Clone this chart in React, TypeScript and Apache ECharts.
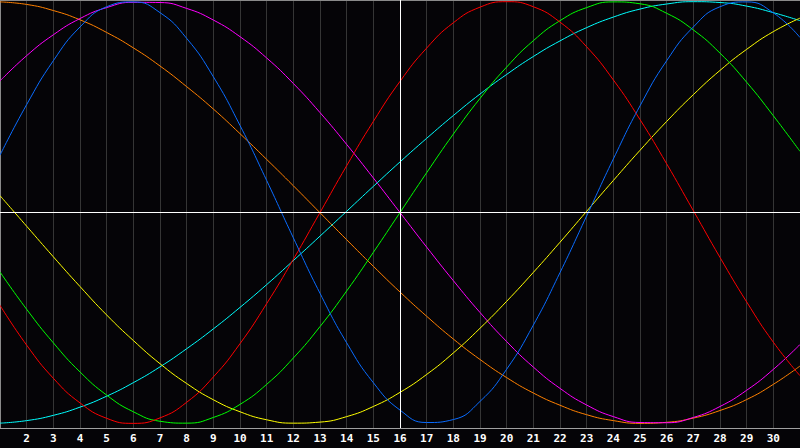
import React, { useEffect, useRef } from "react";
import * as echarts from "echarts";

const xValues = [1, 2, 3, 4, 5, 6, 7, 8, 9, 10, 11, 12, 13, 14, 15, 16, 17, 18, 19, 20, 21, 22, 23, 24, 25, 26, 27, 28, 29, 30, 31];

const redValues = [-0.44, -0.629, -0.786, -0.903, -0.976, -1.0, -0.974, -0.9, -0.78, -0.622, -0.432, -0.222, 0.0, 0.222, 0.432, 0.622, 0.78, 0.9, 0.974, 1.0, 0.976, 0.903, 0.786, 0.629, 0.441, 0.231, 0.009, -0.213, -0.424, -0.615, -0.774];
const greenValues = [-0.282, -0.459, -0.618, -0.756, -0.866, -0.945, -0.99, -0.999, -0.972, -0.91, -0.815, -0.69, -0.541, -0.372, -0.189, 0.0, 0.189, 0.372, 0.541, 0.69, 0.815, 0.91, 0.972, 0.999, 0.99, 0.945, 0.866, 0.756, 0.618, 0.459, 0.29];
const cyanValues = [-0.999, -0.987, -0.962, -0.923, -0.871, -0.807, -0.732, -0.646, -0.552, -0.45, -0.342, -0.228, -0.112, 0.006, 0.124, 0.24, 0.352, 0.46, 0.562, 0.655, 0.74, 0.814, 0.877, 0.927, 0.965, 0.989, 1.0, 0.996, 0.979, 0.948, 0.91];
const yellowValues = [0.08, -0.065, -0.21, -0.351, -0.486, -0.607, -0.717, -0.811, -0.888, -0.945, -0.983, -0.999, -0.994, -0.968, -0.92, -0.853, -0.768, -0.666, -0.549, -0.421, -0.284, -0.141, 0.006, 0.152, 0.295, 0.432, 0.559, 0.674, 0.774, 0.858, 0.922];
const orangeValues = [0.999, 0.987, 0.958, 0.914, 0.854, 0.781, 0.695, 0.597, 0.491, 0.374, 0.252, 0.127, -0.001, -0.129, -0.255, -0.377, -0.492, -0.6, -0.697, -0.783, -0.856, -0.914, -0.959, -0.987, -1.0, -0.995, -0.975, -0.939, -0.887, -0.815, -0.728];
const magentaValues = [0.624, 0.744, 0.843, 0.92, 0.972, 0.997, 0.996, 0.968, 0.913, 0.834, 0.733, 0.612, 0.474, 0.323, 0.164, 0.0, -0.164, -0.323, -0.474, -0.612, -0.733, -0.834, -0.913, -0.968, -0.996, -0.997, -0.972, -0.92, -0.843, -0.744, -0.626];
const blueValues = [0.272, 0.512, 0.72, 0.88, 0.976, 0.999, 0.948, 0.826, 0.644, 0.413, 0.152, -0.12, -0.383, -0.618, -0.807, -0.937, -0.996, -0.982, -0.896, -0.743, -0.534, -0.285, -0.016, 0.254, 0.506, 0.72, 0.88, 0.976, 0.999, 0.947, 0.83];

const curves = [
  { name: "Orange", color: "#ff8000", values: orangeValues },
  { name: "Magenta", color: "#ff00ff", values: magentaValues },
  { name: "Cyan", color: "#00ffff", values: cyanValues },
  { name: "Yellow", color: "#ffff00", values: yellowValues },
  { name: "Green", color: "#00ff00", values: greenValues },
  { name: "Red", color: "#ff0000", values: redValues },
  { name: "Blue", color: "#0a6cff", values: blueValues },
];

const crossX = 16;
const crossY = 0;

export default function App() {
  const ref = useRef<HTMLDivElement>(null);
  useEffect(() => {
    if (!ref.current) return;
    const chart = echarts.init(ref.current, null, { renderer: "svg" });
    const lineSeries = curves.map((c) => ({
      name: c.name,
      type: "line",
      data: xValues.map((x, i) => [x, c.values[i]]),
      smooth: true,
      showSymbol: false,
      symbol: "none",
      z: 3,
      lineStyle: { color: c.color, width: 1 },
      itemStyle: { color: c.color },
    }));
    chart.setOption({
      animation: false,
      backgroundColor: "#050407",
      grid: { left: 0, right: 0, top: 0, bottom: 20 },
      xAxis: [
        {
          type: "value",
          min: 1,
          max: 31,
          interval: 1,
          position: "bottom",
          axisLine: { show: true, onZero: false, lineStyle: { color: "#a0a0a0", width: 1 } },
          axisTick: { show: false },
          splitLine: { show: true, lineStyle: { color: "#353535", width: 1 } },
          axisLabel: {
            show: true,
            color: "#ffffff",
            fontFamily: "DejaVu Sans Mono",
            fontWeight: "bold",
            fontSize: 11,
            margin: 5,
            showMinLabel: false,
            showMaxLabel: false,
            formatter: (v: number) => (v <= 1 || v >= 31 ? "" : String(v)),
          },
        },
        {
          type: "value",
          min: 1,
          max: 31,
          position: "top",
          axisLine: { show: true, onZero: false, lineStyle: { color: "#8a8a8a", width: 1 } },
          axisTick: { show: false },
          axisLabel: { show: false },
          splitLine: { show: false },
        },
      ],
      yAxis: {
        type: "value",
        min: -1.022,
        max: 1.008,
        axisLine: { show: true, onZero: false, lineStyle: { color: "#8a8a8a", width: 1 } },
        axisTick: { show: false },
        axisLabel: { show: false },
        splitLine: { show: false },
      },
      series: [
        {
          type: "line",
          name: "cross",
          data: [[crossX, crossY]],
          symbol: "none",
          lineStyle: { opacity: 0 },
          z: 1,
          silent: true,
          markLine: {
            silent: true,
            symbol: "none",
            label: { show: false },
            lineStyle: { color: "#ffffff", width: 1, type: "solid" },
            data: [{ xAxis: crossX }, { yAxis: crossY }],
          },
        },
        ...lineSeries,
      ],
    });
    return () => chart.dispose();
  }, []);
  return (
    <div
      ref={ref}
      style={{ position: "fixed", left: 0, top: 0, width: 800, height: 448 }}
    />
  );
}
